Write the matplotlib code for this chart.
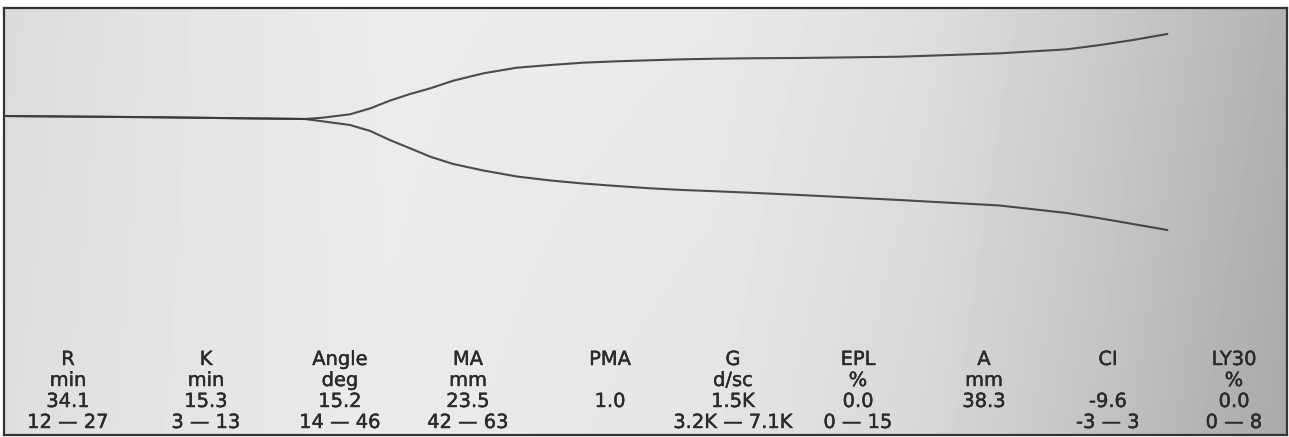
import numpy as np
import matplotlib
matplotlib.use("Agg")
import matplotlib.pyplot as plt
import matplotlib.patheffects as pe

# ---- data (time in minutes, amplitude in mm) ----
time_min = [0.0, 16.5, 34.1, 36.1, 39.2, 41.5, 43.7, 46.0, 48.3, 50.9, 54.3, 58.1,
            61.9, 65.6, 69.4, 73.2, 76.9, 80.8, 84.5, 90.2, 101.5, 112.8, 120.4,
            124.2, 127.9, 131.8]
upper_mm = [0.0, -0.23, -0.59, -0.33, 0.33, 1.50, 2.99, 4.30, 5.41, 6.90, 8.34, 9.44,
            9.97, 10.42, 10.69, 10.89, 11.08, 11.20, 11.28, 11.34, 11.59, 12.25, 13.03,
            13.88, 14.85, 16.03]
lower_mm = [0.0, -0.23, -0.59, -1.04, -1.76, -2.93, -4.69, -6.31, -7.96, -9.38, -10.65,
            -11.82, -12.60, -13.19, -13.68, -14.13, -14.46, -14.72, -14.99, -15.44,
            -16.42, -17.49, -18.96, -20.00, -21.11, -22.28]

param_names = ["R", "K", "Angle", "MA", "PMA", "G", "EPL", "A", "CI", "LY30"]
param_units = ["min", "min", "deg", "mm", "", "d/sc", "%", "mm", "", "%"]
param_values = ["34.1", "15.3", "15.2", "23.5", "1.0", "1.5K", "0.0", "38.3", "-9.6", "0.0"]
param_ranges = ["12 \u2014 27", "3 \u2014 13", "14 \u2014 46", "42 \u2014 63", "",
                "3.2K \u2014 7.1K", "0 \u2014 15", "", "-3 \u2014 3", "0 \u2014 8"]

# ---- layout ----
W, H = 1289, 437
fig = plt.figure(figsize=(W / 100, H / 100), dpi=100)
fig.patch.set_facecolor("white")

left_px, right_px, top_px, bot_px = 4, 1287, 8, 435
ax = fig.add_axes([left_px / W, (H - bot_px) / H,
                   (right_px - left_px) / W, (bot_px - top_px) / H])

px_per_min = 8.827
px_per_mm = 5.117
base_px = 116
xmax = (right_px - left_px) / px_per_min
ytop = (base_px - top_px) / px_per_mm
ybot = -(bot_px - base_px) / px_per_mm
ax.set_xlim(0, xmax)
ax.set_ylim(ybot, ytop)

# paper background with photographic shading
nx, ny = 300, 100
xs = np.linspace(0, 1, nx)
ys = np.linspace(0, 1, ny)  # 0 = top
gx = np.interp(xs, [0.0, 0.12, 0.3, 0.55, 0.72, 0.85, 1.0],
               [0.86, 0.89, 0.925, 0.915, 0.87, 0.80, 0.70])
X, Y = np.meshgrid(xs, ys)
shade = gx[None, :] - 0.05 * Y * X + 0.01 * Y
ax.imshow(shade, cmap="gray", vmin=0, vmax=1, extent=[0, xmax, ybot, ytop],
          aspect="auto", origin="upper", interpolation="bilinear", zorder=0)

# tracing
line_kw = dict(color="#3a3a3a", lw=1.5, alpha=0.9, solid_capstyle="round",
               solid_joinstyle="round", zorder=3)
ax.plot(time_min, upper_mm, **line_kw)
ax.plot(time_min, lower_mm, **line_kw)

ax.set_xticks([])
ax.set_yticks([])
for s in ax.spines.values():
    s.set_color("#333333")
    s.set_linewidth(1.6)

# parameter table
col_x = [68, 206, 340, 468, 610, 733, 858, 984, 1108, 1234]
row_base = [365, 386, 407, 428]
txt_kw = dict(ha="center", va="baseline", fontsize=14, color="#2a2a2a",
              family="DejaVu Sans",
              path_effects=[pe.withStroke(linewidth=0.3, foreground="#2a2a2a")])
for i, cx in enumerate(col_x):
    rows = [param_names[i], param_units[i], param_values[i], param_ranges[i]]
    for r, t in zip(row_base, rows):
        if t:
            fig.text(cx / W, 1 - r / H, t, **txt_kw)

fig.savefig("out.png", dpi=100)
